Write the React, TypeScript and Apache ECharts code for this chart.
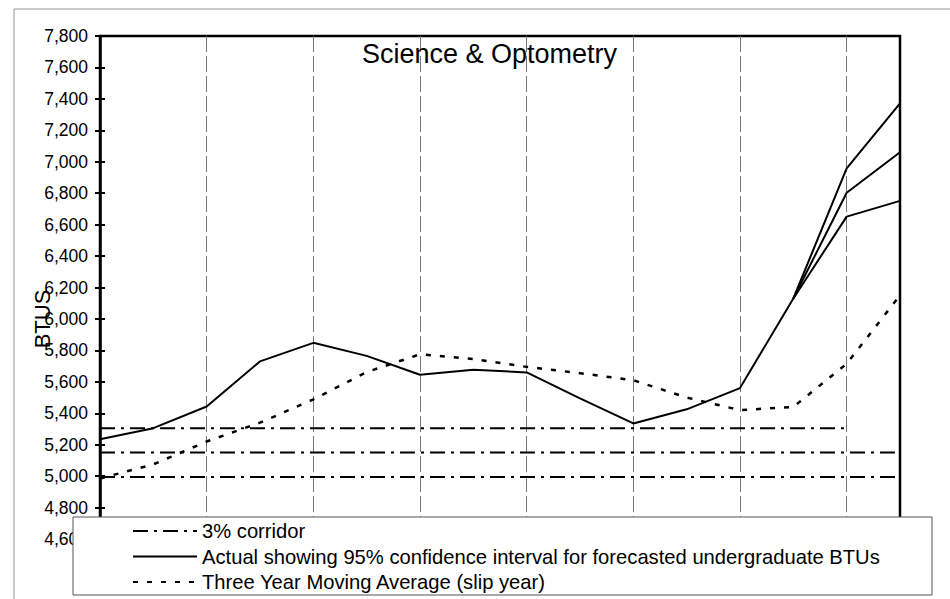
import React, { useEffect, useRef } from "react";
import * as echarts from "echarts";

const categories = ["1", "2", "3", "4", "5", "6", "7", "8", "9", "10", "11", "12", "13", "14", "15", "16"];

const corridorUpper = [5305, 5305, 5305, 5305, 5305, 5305, 5305, 5305, 5305, 5305, 5305, 5305, 5305, 5305, 5305, null];
const corridorMid = [5150, 5150, 5150, 5150, 5150, 5150, 5150, 5150, 5150, 5150, 5150, 5150, 5150, 5150, 5150, 5150];
const corridorLower = [4995, 4995, 4995, 4995, 4995, 4995, 4995, 4995, 4995, 4995, 4995, 4995, 4995, 4995, 4995, 4995];

const actual = [5235, 5305, 5443, 5730, 5848, 5765, 5645, 5676, 5660, 5495, 5335, 5425, 5560, 6130, 6803, 7060];
const ciUpper = [null, null, null, null, null, null, null, null, null, null, null, null, null, 6130, 6958, 7372];
const ciLower = [null, null, null, null, null, null, null, null, null, null, null, null, null, 6130, 6651, 6751];

const movingAvg = [4985, 5075, 5220, 5340, 5488, 5662, 5775, 5745, 5695, 5655, 5610, 5500, 5420, 5440, 5715, 6150];

const CORRIDOR = "3% corridor";
const ACTUAL = "Actual showing 95% confidence interval for forecasted undergraduate BTUs";
const MOVAVG = "Three Year Moving Average (slip year)";

const FONT = "Arial, 'Liberation Sans', sans-serif";

export default function App() {
  const ref = useRef<HTMLDivElement>(null);
  useEffect(() => {
    if (!ref.current) return;
    const chart = echarts.init(ref.current, null, { renderer: "svg" });
    const dashDot = [15, 6, 3, 6];
    const corridorStyle = { color: "#000", width: 2, type: dashDot };
    const solidStyle = { color: "#000", width: 2, type: "solid" };
    const dotStyle = { color: "#000", width: 2.5, type: [5, 9] };
    const mk = (name: string, data: any[], lineStyle: any) => ({
      name,
      type: "line",
      data,
      symbol: "none",
      showSymbol: false,
      lineStyle,
      itemStyle: { color: "#000" },
      z: 3,
    });
    chart.setOption({
      animation: false,
      backgroundColor: "#fff",
      title: {
        text: "Science & Optometry",
        left: 362,
        top: 40,
        padding: 0,
        textStyle: { fontSize: 27, fontWeight: "normal", color: "#000", fontFamily: FONT },
      },
      grid: {
        left: 100,
        right: 50,
        top: 36,
        bottom: 60,
        show: true,
        borderColor: "#000",
        borderWidth: 2.5,
        backgroundColor: "transparent",
      },
      xAxis: {
        type: "category",
        data: categories,
        boundaryGap: false,
        axisLine: { show: false },
        axisTick: { show: false },
        axisLabel: { show: false },
        splitLine: {
          show: true,
          interval: 1,
          lineStyle: { color: "#777", width: 1, type: [16, 4] },
        },
      },
      yAxis: [
        {
          type: "value",
          min: 4600,
          max: 7800,
          interval: 200,
          axisLine: { show: true, lineStyle: { color: "#000", width: 2.5 } },
          axisTick: { show: true, length: 5, lineStyle: { color: "#000", width: 2 } },
          axisLabel: {
            color: "#000",
            fontSize: 17.5,
            fontFamily: FONT,
            margin: 12,
            formatter: (v: number) => v.toLocaleString("en-US"),
          },
          splitLine: { show: false },
        },
        {
          type: "value",
          position: "left",
          min: 4600,
          max: 7800,
          interval: 200,
          axisLine: { show: false },
          axisTick: { show: true, inside: true, length: 5, lineStyle: { color: "#000", width: 2 } },
          axisLabel: { show: false },
          splitLine: { show: false },
        },
      ],
      legend: {
        orient: "vertical",
        left: 127,
        top: 516,
        itemWidth: 64,
        itemHeight: 22,
        itemGap: 5.5,
        selectedMode: false,
        z: 10,
        data: [CORRIDOR, ACTUAL, MOVAVG],
        itemStyle: { color: "rgba(0,0,0,0)", borderColor: "rgba(0,0,0,0)", borderWidth: 0 },
        textStyle: { color: "#000", fontSize: 20.2, fontFamily: FONT },
      },
      graphic: [
        {
          type: "rect",
          z: 0,
          shape: { x: 14, y: 9, width: 960, height: 620 },
          style: { fill: "none", stroke: "#999", lineWidth: 1 },
          silent: true,
        },
        {
          type: "rect",
          z: 8,
          shape: { x: 73, y: 517, width: 859, height: 78 },
          style: { fill: "#fff", stroke: "#555", lineWidth: 1 },
          silent: true,
        },
        {
          type: "text",
          z: 5,
          x: 42,
          y: 319,
          rotation: Math.PI / 2,
          style: {
            text: "BTUS",
            fontSize: 22,
            fontFamily: FONT,
            fill: "#000",
            align: "center",
            verticalAlign: "middle",
          },
          silent: true,
        },
      ],
      series: [
        mk(CORRIDOR, corridorUpper, corridorStyle),
        mk(CORRIDOR, corridorMid, corridorStyle),
        mk(CORRIDOR, corridorLower, corridorStyle),
        mk(ACTUAL, actual, solidStyle),
        mk(ACTUAL, ciUpper, solidStyle),
        mk(ACTUAL, ciLower, solidStyle),
        mk(MOVAVG, movingAvg, dotStyle),
      ],
    });
    return () => chart.dispose();
  }, []);
  return (
    <div
      ref={ref}
      style={{ position: "absolute", left: 0, top: 0, width: 950, height: 599 }}
    />
  );
}
